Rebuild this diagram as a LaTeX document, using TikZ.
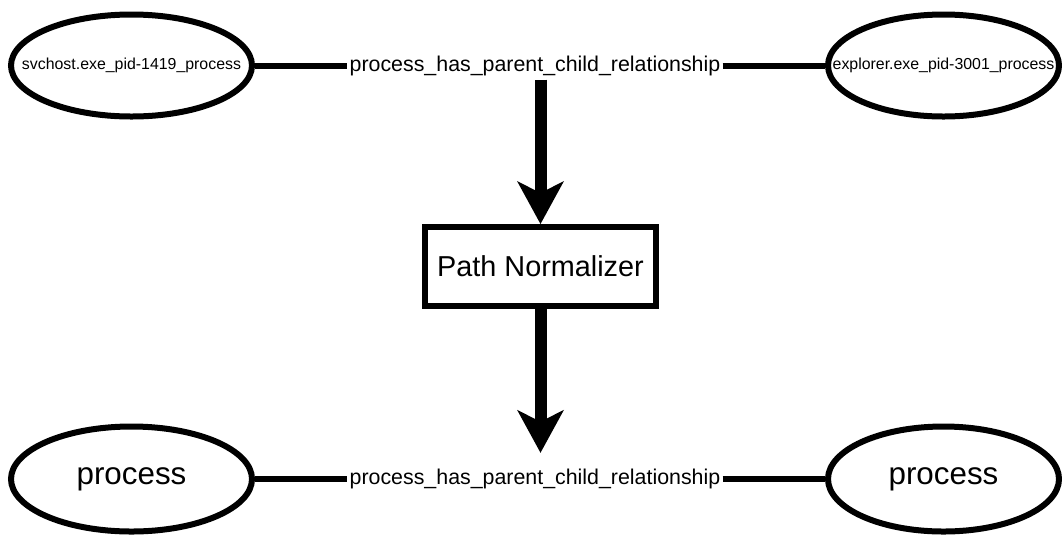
\documentclass[tikz,border=0pt]{standalone}
\usepackage{fontspec}
\setmainfont{Liberation Sans}
\usetikzlibrary{positioning, shapes.geometric, arrows.meta}

\begin{document}
\begin{tikzpicture}[
        x=0.25mm, y=-0.25mm,
        entity/.style={draw, ellipse, line width=1.5mm, inner sep=0pt, minimum width=60.25mm, minimum height=25.5mm},
        idtext/.style={font=\fontsize{11.3}{13}\selectfont},
        typetext/.style={font=\fontsize{22.3}{26}\selectfont},
        relation/.style={inner xsep=0.5mm, inner ysep=1mm, font=\fontsize{15.2}{18}\selectfont},
        normbox/.style={draw, line width=1.5mm, minimum width=57.75mm, minimum height=19.75mm, font=\fontsize{20.5}{24}\selectfont},
        link/.style={line width=1.5mm},
        bigarrow/.style={line width=3mm, -{Stealth[length=10.75mm, width=11.75mm, inset=3mm, line width=0pt]}}
    ]
    \useasboundingbox (0,0) rectangle (1062,534);

    % Nodes -----------------------------------------------
    \node[entity, label={[idtext]center:svchost.exe\_pid-1419\_process}] (svchost) at (131.5,65.5) {};
    \node[entity, minimum width=57.75mm, label={[idtext]center:explorer.exe\_pid-3001\_process}] (explorer) at (943.5,65.5) {};
    \node[relation] (relTop) at (535,65.5) {process\_has\_parent\_child\_relationship};
    \node[normbox] (norm) at (540.5,266.5) {Path Normalizer};
    \node[entity, typetext, minimum height=26.25mm] (procLeft) at (131.5,479) {process};
    \node[entity, typetext, minimum width=57.75mm, minimum height=26.25mm] (procRight) at (943.5,479) {process};
    \node[relation] (relBottom) at (535,479) {process\_has\_parent\_child\_relationship};

    % input graph
    \draw[link] (svchost) -- (relTop);
    \draw[link] (relTop) -- (explorer);

    % normalisation flow
    \draw[bigarrow] (norm.north |- relTop.south) -- (norm.north);
    \draw[bigarrow, shorten >=3mm] (norm.south) -- (norm.south |- relBottom.north);

    % output graph
    \draw[link] (procLeft) -- (relBottom);
    \draw[link] (relBottom) -- (procRight);
\end{tikzpicture}
\end{document}
